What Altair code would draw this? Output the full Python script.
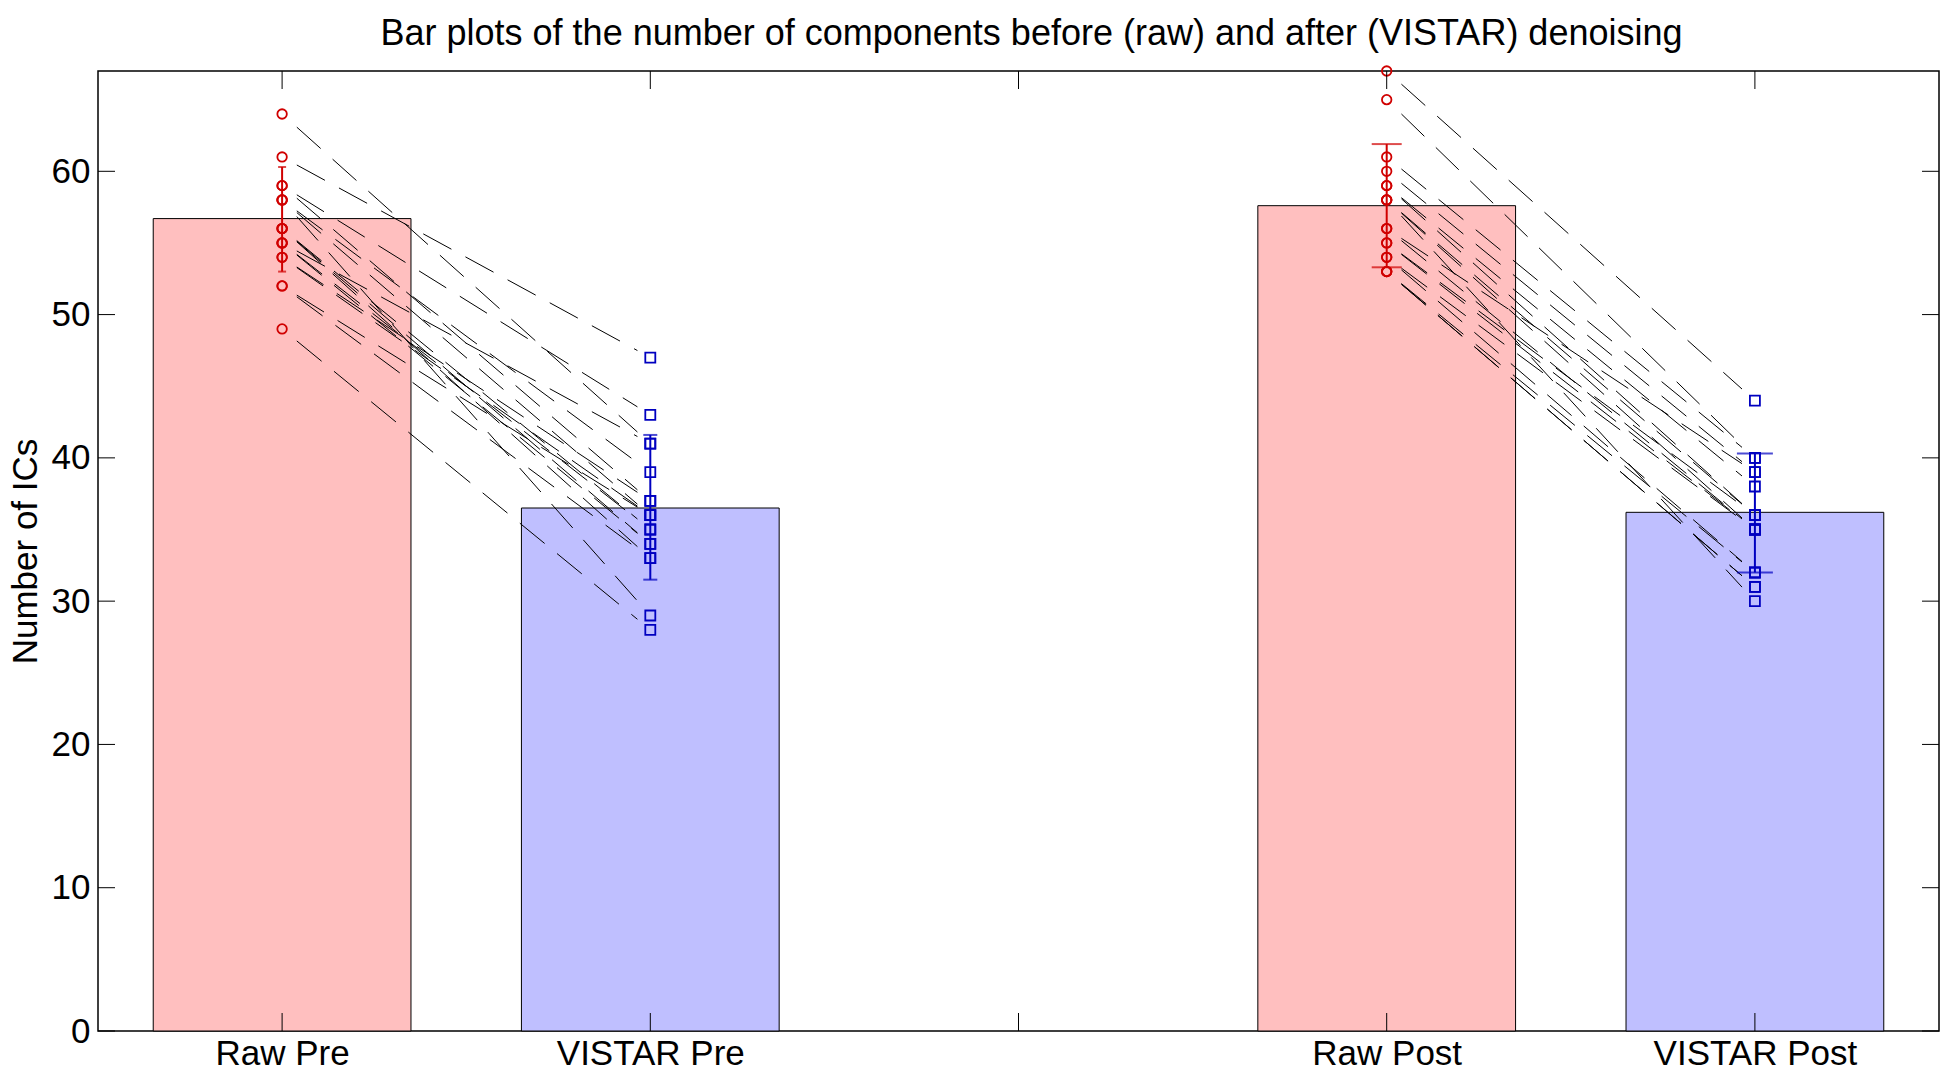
import altair as alt
import pandas as pd

# ---------------- data ----------------
categories = ["Raw Pre", "VISTAR Pre", "Raw Post", "VISTAR Post"]
positions = [1, 2, 4, 5]
kinds = ["Raw", "VISTAR", "Raw", "VISTAR"]
bar_means = [56.7, 36.5, 57.6, 36.2]
err_low = [53.0, 31.5, 53.3, 32.0]
err_high = [60.3, 41.6, 61.9, 40.3]

# paired subjects (raw -> VISTAR)
pre_raw = [64, 61, 59, 59, 58, 58, 55, 54, 56, 56, 55, 54, 52, 52, 49, 56, 55, 58]
pre_vistar = [41, 47, 43, 37, 29, 39, 41, 37, 35, 34, 35, 36, 36, 33, 28, 33, 34, 36]
post_raw = [67, 65, 61, 60, 59, 59, 58, 58, 58, 56, 55, 55, 54, 53, 53, 53, 56, 54]
post_vistar = [44, 40, 40, 39, 38, 36, 36, 35, 30, 39, 36, 35, 35, 32, 31, 31, 35, 32]

y_ticks = [0, 10, 20, 30, 40, 50, 60]
x_ticks = [1, 2, 3, 4, 5]

# ---------------- styles ----------------
W, H = 1841, 960
BAR_HALF = 0.35
cap_widths = [8, 14, 30, 36]
RED = "#d00000"
BLUE = "#0000c0"
FILL_RAW = "#ffbfbf"
FILL_VIS = "#bfbfff"
FONT = "Liberation Sans"

# ---------------- tables ----------------
bars_df = pd.DataFrame({
    "cat": categories, "pos": positions, "kind": kinds,
    "mean": bar_means, "lo": err_low, "hi": err_high, "cap": cap_widths,
})

pairs = []
for r, v in zip(pre_raw, pre_vistar):
    pairs.append({"p1": positions[0], "p2": positions[1], "r": r, "v": v})
for r, v in zip(post_raw, post_vistar):
    pairs.append({"p1": positions[2], "p2": positions[3], "r": r, "v": v})
pairs_df = pd.DataFrame(pairs)

pts = []
for r in pre_raw:
    pts.append({"pos": positions[0], "val": r, "kind": "Raw"})
for v in pre_vistar:
    pts.append({"pos": positions[1], "val": v, "kind": "VISTAR"})
for r in post_raw:
    pts.append({"pos": positions[2], "val": r, "kind": "Raw"})
for v in post_vistar:
    pts.append({"pos": positions[3], "val": v, "kind": "VISTAR"})
pts_df = pd.DataFrame(pts)

xticks_df = pd.DataFrame({"t": x_ticks})
yticks_df = pd.DataFrame({"t": y_ticks})

xs = alt.Scale(domain=[0.5, 5.5], nice=False, zero=False)
ys = alt.Scale(domain=[0, 67], nice=False, zero=False)

label_map = " : ".join(
    f"datum.value == {p} ? '{c}'" for p, c in zip(positions, categories)
) + " : ''"

x_axis = alt.Axis(values=x_ticks, labelExpr=label_map, ticks=False, tickSize=0,
                  domain=False, grid=False, labelFontSize=35, labelPadding=5,
                  labelColor="black", labelOverlap=False, labelFlush=False,
                  labelLimit=0, title=None)
y_axis = alt.Axis(values=y_ticks, ticks=False, tickSize=0, domain=False, grid=False,
                  labelFontSize=35, labelPadding=8, labelColor="black",
                  title="Number of ICs", titleFontSize=35, titleFontWeight="normal",
                  titleColor="black", titleX=-73, titleY=480,
                  titleBaseline="middle", titleAlign="center", titleLimit=0)


def X(field):
    return alt.X(field, scale=xs, axis=x_axis)


def Y(field):
    return alt.Y(field, scale=ys, axis=y_axis)


bar_layers = []
for kind, fill in (("Raw", FILL_RAW), ("VISTAR", FILL_VIS)):
    bar_layers.append(
        alt.Chart(bars_df).transform_filter(f"datum.kind == '{kind}'").transform_calculate(
            x0=f"datum.pos - {BAR_HALF}", x1=f"datum.pos + {BAR_HALF}"
        ).mark_bar(stroke="black", strokeWidth=1, fill=fill, opacity=1).encode(
            x=X("x0:Q"), x2="x1:Q",
            y=alt.Y("mean:Q", scale=ys, axis=y_axis, stack=None),
            y2=alt.datum(0),
        )
    )

lines = alt.Chart(pairs_df).transform_calculate(
    xa="datum.p1 + 0.04",
    xb="datum.p2 - 0.035",
    ya="datum.r + 0.04 * (datum.v - datum.r)",
    yb="datum.v + 0.035 * (datum.r - datum.v)",
).mark_rule(color="black", strokeWidth=1, strokeDash=[32, 16]).encode(
    x=X("xa:Q"), x2="xb:Q",
    y=Y("ya:Q"), y2="yb:Q",
)

err_layers = []
for kind, col, shape, size in (("Raw", RED, "circle", 90), ("VISTAR", BLUE, "square", 100)):
    err_layers.append(
        alt.Chart(bars_df).transform_filter(f"datum.kind == '{kind}'").mark_rule(
            strokeWidth=2, color=col
        ).encode(x=X("pos:Q"), y=Y("lo:Q"), y2="hi:Q")
    )
    err_layers.append(
        alt.Chart(bars_df).transform_filter(f"datum.kind == '{kind}'").transform_fold(
            ["lo", "hi"], as_=["end", "yv"]
        ).mark_tick(orient="horizontal", thickness=2, color=col).encode(
            x=X("pos:Q"), y=Y("yv:Q"),
            size=alt.Size("cap:Q", scale=None, legend=None),
        )
    )
    err_layers.append(
        alt.Chart(pts_df).transform_filter(f"datum.kind == '{kind}'").mark_point(
            shape=shape, filled=False, size=size, strokeWidth=1.8, color=col,
            clip=False, opacity=1
        ).encode(x=X("pos:Q"), y=Y("val:Q"))
    )

tick_len_x = 18
tick_len_y = 17
xt_bottom = alt.Chart(xticks_df).mark_rule(color="black", strokeWidth=1).encode(
    x=X("t:Q"), y=alt.value(H), y2=alt.value(H - tick_len_x),
)
xt_top = alt.Chart(xticks_df).mark_rule(color="black", strokeWidth=1).encode(
    x=X("t:Q"), y=alt.value(0), y2=alt.value(tick_len_x),
)
yt_left = alt.Chart(yticks_df).mark_rule(color="black", strokeWidth=1).encode(
    y=Y("t:Q"), x=alt.value(0), x2=alt.value(tick_len_y),
)
yt_right = alt.Chart(yticks_df).mark_rule(color="black", strokeWidth=1).encode(
    y=Y("t:Q"), x=alt.value(W), x2=alt.value(W - tick_len_y),
)

chart = alt.layer(
    *bar_layers, lines, *err_layers, xt_bottom, xt_top, yt_left, yt_right
).properties(
    width=W, height=H,
    title=alt.TitleParams(
        text="Bar plots of the number of components before (raw) and after (VISTAR) denoising",
        fontSize=36, fontWeight="normal", font=FONT, color="black",
        anchor="middle", offset=10, dx=13, limit=0,
    ),
    autosize=alt.AutoSizeParams(type="none"),
    padding={"left": 90, "top": 63, "right": 10, "bottom": 40},
).configure(
    font=FONT, background="white",
).configure_view(
    stroke="black", strokeWidth=1.5,
)

chart.save("out.html", embed_options={"renderer": "svg", "actions": False})
